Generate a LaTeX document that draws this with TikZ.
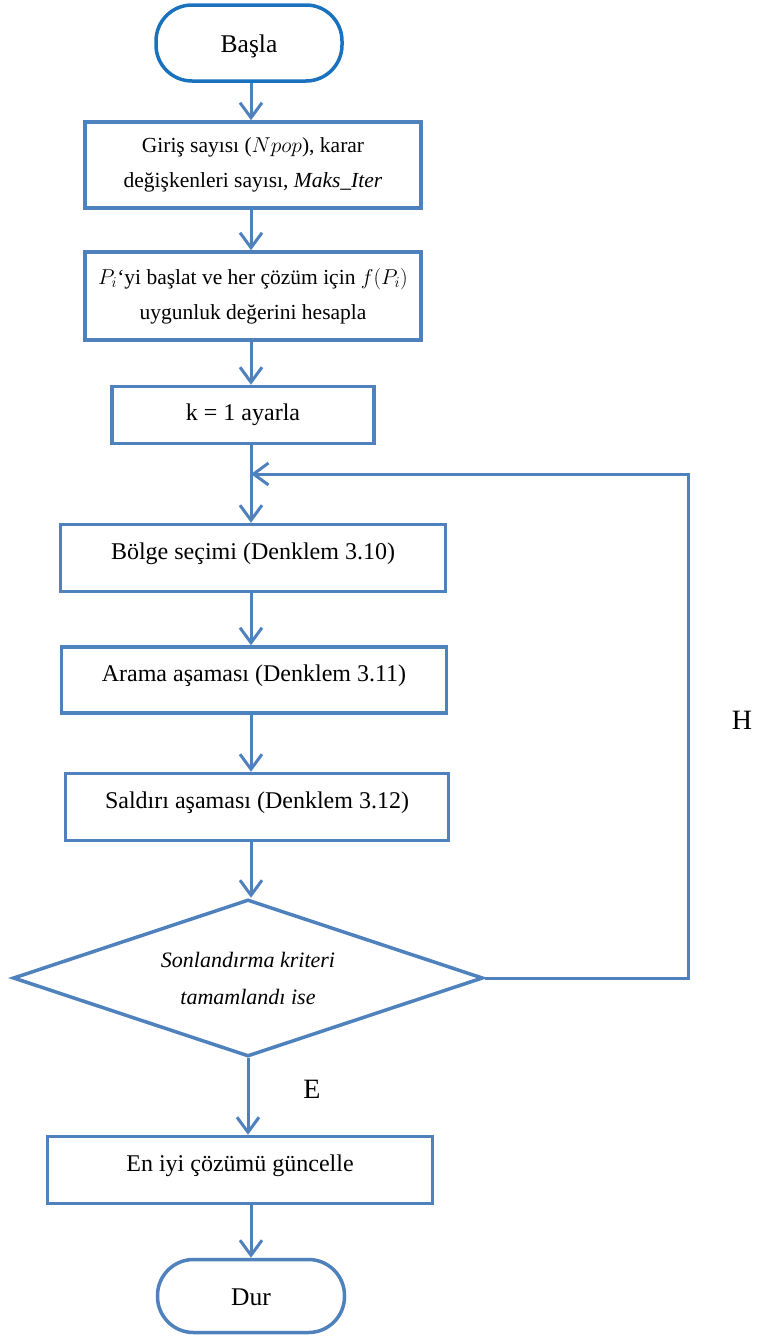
\documentclass[tikz,border=0pt]{standalone}
\usepackage{fix-cm}
\usepackage{fontspec}
\setmainfont{Liberation Serif}
\usetikzlibrary{arrows.meta,shapes.geometric}
\definecolor{flow}{HTML}{4F81BD}
\definecolor{termblue}{HTML}{1A72BE}
\begin{document}
\begin{tikzpicture}[x=1pt,y=-1pt,
  box/.style={draw=flow,line width=3.5pt,fill=white,inner sep=2pt,align=center},
  small/.style={font=\fontsize{21.5}{35}\selectfont},
  big/.style={font=\fontsize{24}{30}\selectfont},
  oneline/.style={big,text height=18pt,text depth=15pt},
  term/.style={box,rounded corners=36pt,font=\fontsize{25.5}{30}\selectfont,
               text height=18pt,text depth=0pt},
  arr/.style={draw=flow,line width=3pt,
              -{Straight Barb[length=15pt,width=22pt]}},
  lbl/.style={font=\fontsize{28}{30}\selectfont,inner sep=0pt}]
\useasboundingbox (0,0) rectangle (761,1336);

% spine on which the vertical connectors run
\coordinate (spine) at (251,0);

% terminals, process boxes and the decision
\node[term,draw=termblue,minimum width=186pt,minimum height=76pt] (start) at (249,43) {Başla};
\node[box,small,minimum width=336pt,minimum height=86pt] (init) at (253,165)
  {Giriş sayısı ($Npop$), karar\\değişkenleri sayısı, \textit{Maks\_Iter}};
\node[box,small,minimum width=336pt,minimum height=88pt] (eval) at (253,296)
  {$P_i$‘yi başlat ve her çözüm için $f(P_i)$\\uygunluk değerini hesapla};
\node[box,big,minimum width=262pt,minimum height=57pt] (setk) at (243,415) {k = 1 ayarla};
\node[box,oneline,minimum width=385pt,minimum height=67pt] (region) at (253,558) {Bölge seçimi (Denklem 3.10)};
\node[box,oneline,minimum width=385pt,minimum height=66pt] (search) at (254,680) {Arama aşaması (Denklem 3.11)};
\node[box,oneline,minimum width=383pt,minimum height=67pt] (attack) at (257,807) {Saldırı aşaması (Denklem 3.12)};
\node[diamond,draw=flow,line width=3.5pt,fill=white,aspect=3,inner sep=0pt,
      minimum width=470pt,minimum height=157pt,align=center,
      font=\itshape\fontsize{22}{37}\selectfont] (stop) at (248,978)
  {Sonlandırma kriteri\\tamamlandı ise};
\node[box,oneline,minimum width=385pt,minimum height=67pt] (best) at (240,1170) {En iyi çözümü güncelle};
\node[term,minimum width=187pt,minimum height=73pt] (end) at (251,1296) {Dur};

% branch labels
\node[lbl] (yes) at (312,1089) {E};
\node[lbl] (no) at (742,720) {H};

% main flow
\draw[arr] (start.south -| spine) -- (init.north -| spine);
\draw[arr] (init.south -| spine) -- (eval.north -| spine);
\draw[arr] (eval.south -| spine) -- (setk.north -| spine);
\draw[arr] (setk.south -| spine) -- (region.north -| spine);
\draw[arr] (region.south -| spine) -- (search.north -| spine);
\draw[arr] (search.south -| spine) -- (attack.north -| spine);
\draw[arr] (attack.south -| spine) -- (stop.north -| spine);
\draw[arr] (stop.south) -- (stop.south |- best.north);
\draw[arr] (best.south -| spine) -- (end.north -| spine);

% loop back when the criterion is not met
\coordinate (join) at (251,474);
\coordinate (loopc) at (688,474);
\draw[arr] (stop.east) -| (loopc) -- (join);
\end{tikzpicture}
\end{document}
